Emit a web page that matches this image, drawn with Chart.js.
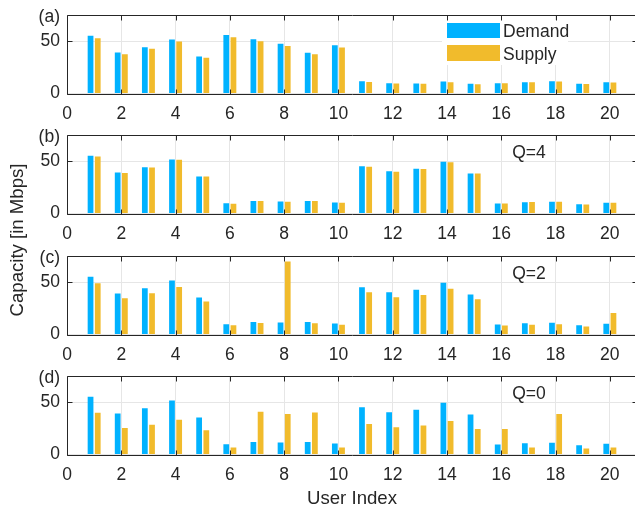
<!DOCTYPE html>
<html>
<head>
<meta charset="utf-8">
<script src="https://cdn.jsdelivr.net/npm/chart.js@4"></script>
<style>
  html, body { margin: 0; padding: 0; background: #fff; }
  #fig { position: relative; width: 635px; height: 510px; overflow: hidden; background: #fff; }
  #fig canvas { position: absolute; left: 0; }
  #ylab {
    position: absolute; left: -133px; top: 229px; width: 300px; height: 22px;
    line-height: 22px; text-align: center; transform: rotate(-90deg);
    font-family: "Liberation Sans", Arial, sans-serif; font-size: 18.6px; color: #262626;
  }
</style>
</head>
<body>
<div id="fig">
  <canvas id="panelA" width="640" height="120" style="top:3px"></canvas>
  <canvas id="panelB" width="640" height="120" style="top:123px"></canvas>
  <canvas id="panelC" width="640" height="120" style="top:244px"></canvas>
  <canvas id="panelD" width="640" height="146" style="top:364px"></canvas>
  <div id="ylab">Capacity [in Mbps]</div>
</div>
<script>
// users on the x axis
const users = [1, 2, 3, 4, 5, 6, 7, 8, 9, 10, 11, 12, 13, 14, 15, 16, 17, 18, 19, 20];

// (a) - no Q label
const demandA = [55.1, 39.2, 44.3, 51.6, 35.4, 56.0, 51.9, 47.5, 38.9, 46.2, 11.8, 9.9, 9.6, 11.5, 9.2, 9.9, 10.8, 11.8, 9.2, 10.8];
const supplyA = [52.9, 37.6, 42.7, 49.7, 34.1, 53.8, 50.0, 45.5, 37.6, 44.0, 11.1, 9.6, 9.2, 10.8, 8.9, 9.9, 10.8, 11.5, 9.0, 10.5];

// (b)-(d) share the same demand
const demandQ = [55.1, 39.1, 44.3, 51.5, 35.4, 9.7, 12.0, 11.5, 12.0, 10.4, 45.2, 40.3, 42.8, 49.5, 38.2, 9.6, 10.7, 11.3, 8.8, 10.3];
const supplyQ4 = [54.5, 38.8, 43.9, 51.3, 35.3, 9.3, 11.9, 11.2, 11.9, 10.3, 44.6, 40.0, 42.6, 49.0, 38.1, 9.6, 10.9, 11.2, 8.7, 10.3];
const supplyQ2 = [49.0, 34.7, 39.5, 45.5, 31.5, 8.9, 11.1, 69.7, 10.8, 9.3, 40.4, 35.6, 37.8, 43.6, 33.7, 8.7, 9.3, 9.9, 7.7, 20.5];
const supplyQ0 = [39.9, 25.3, 28.5, 33.2, 23.1, 6.6, 40.8, 38.6, 40.2, 6.7, 29.2, 26.0, 27.6, 32.0, 24.4, 24.4, 6.7, 38.8, 5.8, 6.7];

// tick labels
const xTicks = [0, 2, 4, 6, 8, 10, 12, 14, 16, 18, 20];
const yTicks = [0, 50];

const BLUE = '#00b2ff';
const GOLD = '#f1bb2c';
const INK = '#262626';
const GRID = '#e6e6e6';
const FONT = '"Liberation Sans", Arial, sans-serif';
const FSIZE = 17.5;
const PLOT_H = 78.5;

// MATLAB style box with inward ticks
const boxPlugin = {
    id: 'box',
    afterDraw(chart) {
        const {ctx, chartArea: a, scales: {x, y}} = chart;
        ctx.save();
        ctx.strokeStyle = INK;
        ctx.lineWidth = 1;
        const l = Math.round(a.left) + 0.5, t = Math.round(a.top) + 0.5;
        const r = Math.round(a.right) + 0.5, b = Math.round(a.bottom) + 0.5;
        ctx.beginPath();
        ctx.rect(l, t, r - l, b - t);
        xTicks.forEach(v => {
            const px = Math.round(x.getPixelForValue(v)) + 0.5;
            ctx.moveTo(px, b); ctx.lineTo(px, b - 5);
            ctx.moveTo(px, t); ctx.lineTo(px, t + 5);
        });
        yTicks.forEach(v => {
            const py = Math.round(y.getPixelForValue(v)) + 0.5;
            ctx.moveTo(l, py); ctx.lineTo(l + 5, py);
            ctx.moveTo(r, py); ctx.lineTo(r - 5, py);
        });
        ctx.stroke();
        ctx.restore();
    }
};

// panel letter, Q label and the legend
const notePlugin = {
    id: 'notes',
    afterDatasetsDraw(chart, args, opts) {
        const {ctx, chartArea: a} = chart;
        ctx.save();
        ctx.font = FSIZE + 'px ' + FONT;
        ctx.fillStyle = INK;
        ctx.textBaseline = 'middle';
        ctx.textAlign = 'right';
        ctx.fillText(opts.letter, 60, a.top + 2);
        if (opts.q) {
            ctx.textAlign = 'center';
            ctx.fillText(opts.q, 529, a.top + 18);
        }
        if (opts.legend) {
            const top = a.top + 5;
            ctx.fillStyle = '#fff';
            ctx.fillRect(442, top, 126, 45);
            ctx.fillStyle = BLUE;
            ctx.fillRect(447, top + 3, 53, 15);
            ctx.fillStyle = GOLD;
            ctx.fillRect(447, top + 25, 53, 16);
            ctx.fillStyle = INK;
            ctx.textAlign = 'left';
            ctx.fillText('Demand', 503, top + 12);
            ctx.fillText('Supply', 503, top + 35);
        }
        ctx.restore();
    }
};

function makePanel(id, demand, supply, letter, q, isLast) {
    const canvas = document.getElementById(id);
    const xHeight = canvas.height - 12 - PLOT_H;
    return new Chart(canvas, {
        type: 'bar',
        data: {
            labels: users,
            datasets: [
                {label: 'Demand', data: demand, backgroundColor: BLUE, borderWidth: 0},
                {label: 'Supply', data: supply, backgroundColor: GOLD, borderWidth: 0}
            ]
        },
        options: {
            responsive: false,
            animation: false,
            events: [],
            layout: {padding: {top: 12, right: 3, bottom: 0, left: 0}},
            datasets: {bar: {categoryPercentage: 0.53, barPercentage: 0.8}},
            plugins: {
                legend: {display: false},
                tooltip: {enabled: false},
                notes: {letter: letter, q: q, legend: id === 'panelA'}
            },
            scales: {
                x: {
                    type: 'linear',
                    min: 0,
                    max: 21,
                    offset: false,
                    grid: {offset: false, color: GRID, drawTicks: false},
                    border: {display: false},
                    afterBuildTicks: axis => { axis.ticks = xTicks.map(v => ({value: v})); },
                    afterFit: scale => {
                        scale.height = xHeight;
                        scale.paddingLeft = 0;
                        scale.paddingRight = 0;
                    },
                    ticks: {padding: 10, maxRotation: 0, autoSkip: false, color: INK, font: {family: FONT, size: FSIZE}},
                    title: {
                        display: isLast,
                        text: 'User Index',
                        color: INK,
                        font: {family: FONT, size: 18.6},
                        padding: {top: 0, bottom: 0}
                    }
                },
                y: {
                    min: 0,
                    max: 75,
                    grid: {color: GRID, drawTicks: false},
                    border: {display: false},
                    afterBuildTicks: axis => { axis.ticks = yTicks.map(v => ({value: v})); },
                    afterFit: scale => {
                        scale.width = 67;
                        scale.paddingTop = 0;
                        scale.paddingBottom = 0;
                    },
                    ticks: {padding: 7, color: INK, font: {family: FONT, size: FSIZE}}
                }
            }
        },
        plugins: [boxPlugin, notePlugin]
    });
}

makePanel('panelA', demandA, supplyA, '(a)', null, false);
makePanel('panelB', demandQ, supplyQ4, '(b)', 'Q=4', false);
makePanel('panelC', demandQ, supplyQ2, '(c)', 'Q=2', false);
makePanel('panelD', demandQ, supplyQ0, '(d)', 'Q=0', true);
</script>
</body>
</html>
